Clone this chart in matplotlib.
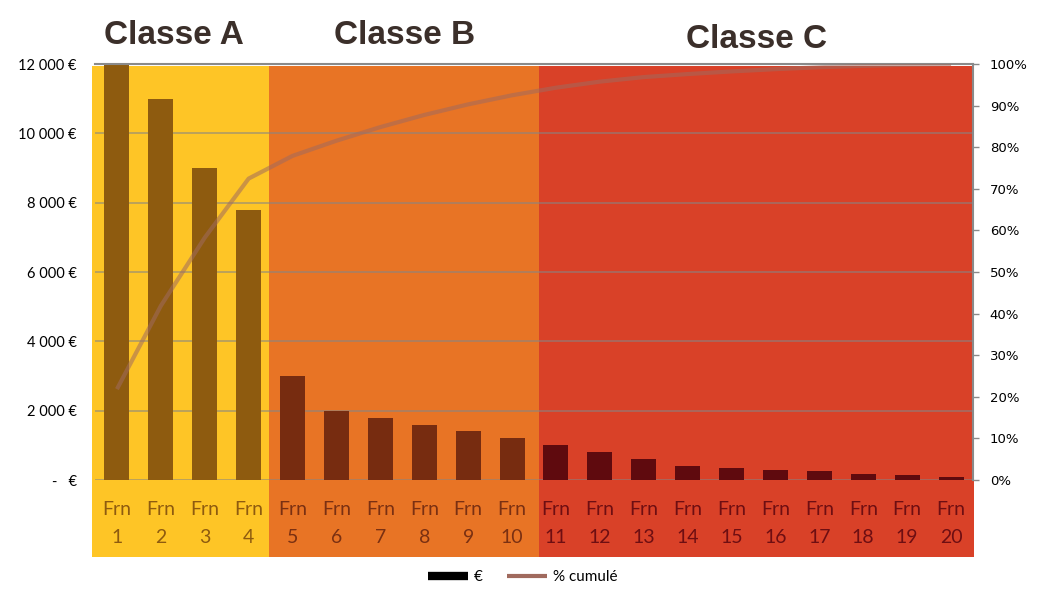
import numpy as np
import matplotlib.pyplot as plt
from matplotlib.patches import Rectangle
from matplotlib.lines import Line2D

# data
fournisseurs = ["Frn\n%d" % i for i in range(1, 21)]
montants = [12000, 11000, 9000, 7800,
            3000, 2000, 1800, 1600, 1400, 1200,
            1000, 800, 600, 400, 350, 300, 250, 180, 150, 100]
classes = ["A"] * 4 + ["B"] * 6 + ["C"] * 10
classe_titres = ["Classe A", "Classe B", "Classe C"]

fond = {"A": "#FEC526", "B": "#E87425", "C": "#D94128"}
barre = {"A": "#8E5B0F", "B": "#772C10", "C": "#5F0A0E"}
texte = {"A": "#8E5B0F", "B": "#7A3012", "C": "#6E0E12"}

cumul = np.cumsum(montants) / np.sum(montants)

fig = plt.figure(figsize=(10.4, 6.07), dpi=100)
ax = fig.add_axes([95 / 1040, 1 - 480 / 607, 878 / 1040, 416 / 607])
ax.set_facecolor("none")

# background bands (figure coords, in px)
bands = [(92, 269, "A"), (269, 539, "B"), (539, 974, "C")]
for x0, x1, c in bands:
    fig.add_artist(Rectangle((x0 / 1040, 1 - 557 / 607), (x1 - x0) / 1040, (557 - 66) / 607,
                             transform=fig.transFigure, color=fond[c], zorder=-10, lw=0))

x = np.arange(len(montants))
ax.bar(x, montants, width=0.57, color=[barre[c] for c in classes], zorder=2)
ax.set_xlim(-0.5, len(montants) - 0.5)
ax.set_ylim(0, 12000)
ax.set_yticks(range(0, 12001, 2000))
ax.set_yticklabels(["-   €"] + ["%d 000 €" % (v // 1000) for v in range(2000, 12001, 2000)],
                   fontsize=10.5, family="Lato")
ax.yaxis.grid(True, color="#858585", alpha=0.6, lw=1.3, zorder=0)
ax.set_axisbelow(True)
ax.tick_params(axis="y", length=0, pad=13)
ax.set_xticks(x)
ax.set_xticklabels(fournisseurs, fontsize=14, family="Lato", linespacing=1.8)
for lab, c in zip(ax.get_xticklabels(), classes):
    lab.set_color(texte[c])
ax.tick_params(axis="x", length=0, pad=15)
for s in ax.spines.values():
    s.set_visible(False)
ax.axhline(12000, color="#8a8a8a", lw=1.5, zorder=3, clip_on=False)

ax2 = ax.twinx()
ax2.plot(x, cumul, color="#A06A5E", lw=3, alpha=0.55, solid_capstyle="butt")
ax2.set_ylim(0, 1)
ax2.set_yticks(np.arange(0, 1.01, 0.1))
ax2.set_yticklabels(["%d%%" % round(v * 100) for v in np.arange(0, 1.01, 0.1)],
                    fontsize=9.5, family="DejaVu Sans")
ax2.tick_params(axis="y", length=4, width=1, color="#8a8a8a", pad=8)
for k, s in ax2.spines.items():
    s.set_visible(k == "right")
ax2.spines["right"].set_color("#8a8a8a")
ax2.spines["right"].set_linewidth(1.5)

# class titles
for t, (px, py) in zip(classe_titres, [(174, 35), (405, 35), (757, 39)]):
    fig.text(px / 1040, 1 - py / 607, t, ha="center", va="center", fontsize=24,
             weight="bold", family="Liberation Sans", color="#3B2F2A")

handles = [Line2D([], [], color="black", lw=6, solid_capstyle="butt"),
           Line2D([], [], color="#A06A5E", lw=3, solid_capstyle="butt")]
fig.legend(handles, ["€", "% cumulé"], loc="center", bbox_to_anchor=(523 / 1040, 1 - 577 / 607),
           ncol=2, frameon=False, prop={"family": "Lato", "size": 11},
           handlelength=2.6, handletextpad=0.4, columnspacing=1.6)

fig.savefig("out.png", dpi=100)
